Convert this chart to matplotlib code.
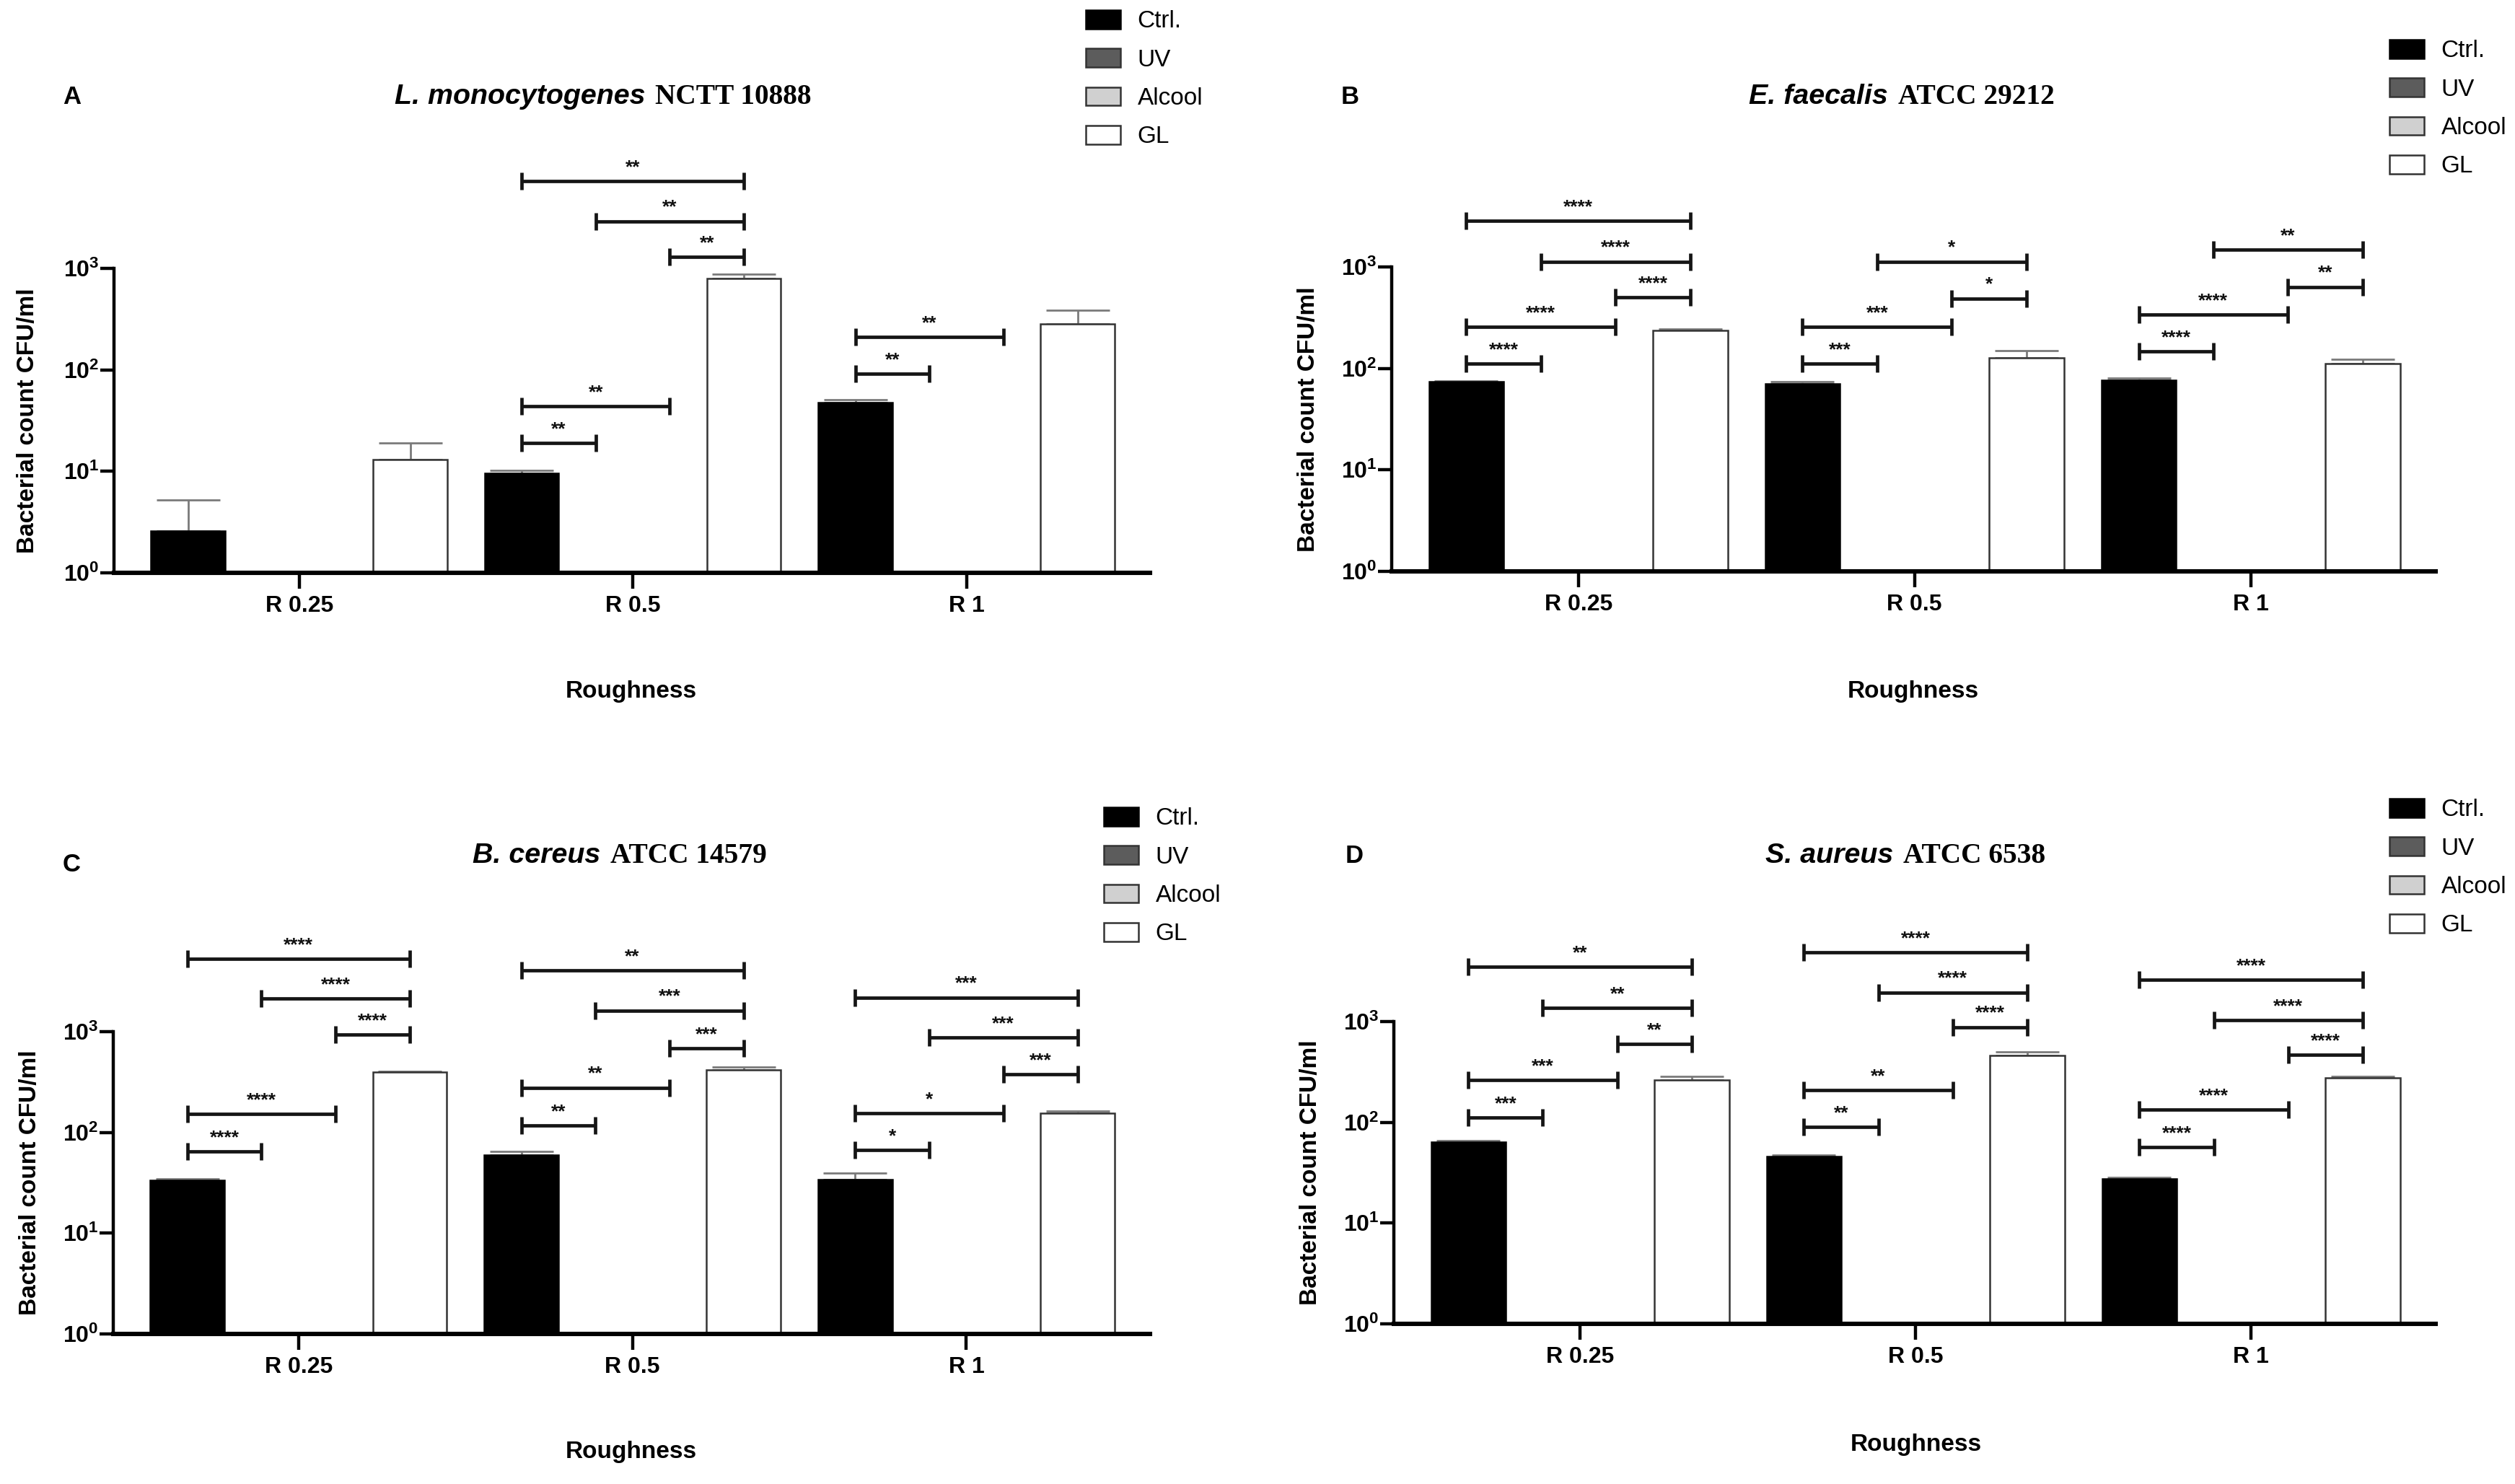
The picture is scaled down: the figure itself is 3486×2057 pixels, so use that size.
import numpy as np
import matplotlib
matplotlib.use("Agg")
import matplotlib.pyplot as plt
from matplotlib.ticker import FixedLocator, FuncFormatter, NullLocator
from matplotlib.offsetbox import TextArea, HPacker, AnnotationBbox

plt.rcParams['font.family'] = ['Liberation Sans', 'DejaVu Sans']
plt.rcParams['mathtext.fontset'] = 'custom'
plt.rcParams['mathtext.rm'] = 'Liberation Sans'
plt.rcParams['mathtext.bf'] = 'Liberation Sans:bold'
plt.rcParams['mathtext.it'] = 'Liberation Sans:italic'

# ---------------- data ----------------
categories = ["R 0.25", "R 0.5", "R 1"]
treatments = ["Ctrl.", "UV", "Alcool", "GL"]
bar_colors = ["#000000", "#5c5c5c", "#d0d0d0", "#ffffff"]

# Panel A - L. monocytogenes
a_ctrl = [2.6, 9.5, 47.6]
a_uv = [0, 0, 0]
a_alcool = [0, 0, 0]
a_gl = [13.0, 795, 284]
a_ctrl_sd = [2.6, 0.7, 3.4]
a_gl_sd = [5.9, 78, 105]
a_brackets = [(1, 0, 1, 18.9, "**"), (1, 0, 2, 43.8, "**"), (1, 2, 3, 1300, "**"),
              (1, 1, 3, 2920, "**"), (1, 0, 3, 7210, "**"),
              (2, 0, 1, 91, "**"), (2, 0, 2, 212, "**")]

# Panel B - E. faecalis
b_ctrl = [73.5, 70.5, 76.6]
b_uv = [0, 0, 0]
b_alcool = [0, 0, 0]
b_gl = [238, 128, 112]
b_ctrl_sd = [1.5, 3, 3.4]
b_gl_sd = [7, 22, 12]
b_brackets = [(0, 0, 1, 111, "****"), (0, 0, 2, 258, "****"), (0, 2, 3, 500, "****"),
              (0, 1, 3, 1130, "****"), (0, 0, 3, 2850, "****"),
              (1, 0, 1, 111, "***"), (1, 0, 2, 258, "***"), (1, 2, 3, 490, "*"),
              (1, 1, 3, 1130, "*"),
              (2, 0, 1, 147, "****"), (2, 0, 2, 340, "****"), (2, 2, 3, 637, "**"),
              (2, 1, 3, 1470, "**")]

# Panel C - B. cereus
c_ctrl = [33.5, 60, 34]
c_uv = [0, 0, 0]
c_alcool = [0, 0, 0]
c_gl = [394, 415, 154]
c_ctrl_sd = [1, 4.5, 5.3]
c_gl_sd = [12, 32, 10]
c_brackets = [(0, 0, 1, 65, "****"), (0, 0, 2, 152, "****"), (0, 2, 3, 937, "****"),
              (0, 1, 3, 2140, "****"), (0, 0, 3, 5260, "****"),
              (1, 0, 1, 117, "**"), (1, 0, 2, 278, "**"), (1, 2, 3, 683, "***"),
              (1, 1, 3, 1625, "***"), (1, 0, 3, 4035, "**"),
              (2, 0, 1, 66.6, "*"), (2, 0, 2, 155, "*"), (2, 2, 3, 377, "***"),
              (2, 1, 3, 871, "***"), (2, 0, 3, 2185, "***")]

# Panel D - S. aureus
d_ctrl = [64, 45.5, 27.4]
d_uv = [0, 0, 0]
d_alcool = [0, 0, 0]
d_gl = [264, 462, 275]
d_ctrl_sd = [1.5, 1.5, 0.8]
d_gl_sd = [23, 35, 9]
d_brackets = [(0, 0, 1, 112, "***"), (0, 0, 2, 261, "***"), (0, 2, 3, 601, "**"),
              (0, 1, 3, 1372, "**"), (0, 0, 3, 3480, "**"),
              (1, 0, 1, 89.6, "**"), (1, 0, 2, 209, "**"), (1, 2, 3, 880, "****"),
              (1, 1, 3, 1945, "****"), (1, 0, 3, 4883, "****"),
              (2, 0, 1, 56.9, "****"), (2, 0, 2, 134, "****"), (2, 2, 3, 467, "****"),
              (2, 1, 3, 1030, "****"), (2, 0, 3, 2590, "****")]

# ---------------- layout ----------------
W, H, DPI = 3487, 2057, 200
fig = plt.figure(figsize=(W / DPI, H / DPI), dpi=DPI, facecolor="white")


def fx(px):
    return px / W


def fy(py):
    return 1 - py / H


BAR_W = 0.222
offsets = (np.arange(4) - 1.5) * BAR_W
XLIM = (-0.555, 2.55)


def make_panel(lay, letter, species, strain, series, ctrl_sd, gl_sd, brackets):
    left, right, y0, y3 = lay["left"], lay["right"], lay["y0"], lay["y3"]
    top = y3 - 230
    dec = (y0 - y3) / 3.0
    ax = fig.add_axes([fx(left), fy(y0), (right - left) / W, (y0 - top) / H])
    ax.set_yscale("log")
    ax.set_ylim(1, 10 ** ((y0 - top) / dec))
    ax.set_xlim(*XLIM)
    x = np.arange(len(categories))
    sds = [ctrl_sd, None, None, gl_sd]
    handles = []
    for k, t in enumerate(treatments):
        vals = np.asarray(series[k], float)
        h = np.where(vals > 1, vals - 1, 0)
        bc = ax.bar(x + offsets[k], h, bottom=1, width=BAR_W, color=bar_colors[k],
                    edgecolor="#000000" if k == 0 else "#333333",
                    linewidth=0.9, label=t, zorder=2)
        handles.append(bc)
        if sds[k] is not None:
            ax.errorbar(x + offsets[k], vals, yerr=[np.zeros(len(vals)), sds[k]],
                        fmt="none", ecolor="#7a7a7a", elinewidth=1.0,
                        capsize=16, capthick=1.0, zorder=1)
    # significance brackets
    for g, i, j, yv, lab in brackets:
        x1, x2 = g + offsets[i], g + offsets[j]
        ax.plot([x1, x2], [yv, yv], color="#151515", lw=1.7, marker="|",
                ms=8.5, mew=1.7, clip_on=False, zorder=3, solid_capstyle="butt")
        ax.annotate(lab, ((x1 + x2) / 2, yv), xytext=(0, 2.5),
                    textcoords="offset points", ha="center", va="bottom",
                    fontsize=9.5, fontweight="bold", color="#111111")
    # axes styling
    for s in ("top", "right"):
        ax.spines[s].set_visible(False)
    ax.spines["left"].set_bounds(1, 1000)
    ax.spines["left"].set_linewidth(1.6)
    ax.spines["bottom"].set_linewidth(2.2)
    ax.yaxis.set_major_locator(FixedLocator([1, 10, 100, 1000]))
    ax.yaxis.set_minor_locator(NullLocator())
    ax.yaxis.set_major_formatter(FuncFormatter(
        lambda v, p: r"$\mathbf{10^{%d}}$" % int(round(np.log10(v)))))
    ax.tick_params(axis="y", length=7, width=1.6, pad=0.5, labelsize=11.5)
    ax.set_xticks(x, categories)
    for tl in ax.get_xticklabels():
        tl.set_fontweight("bold")
    ax.tick_params(axis="x", length=8, width=1.6, pad=3, labelsize=11.5)
    ax.patch.set_alpha(0)

    # labels
    fig.text(fx(lay["ylab_x"]), fy((y0 + y3) / 2), "Bacterial count CFU/ml",
             rotation=90, ha="center", va="center", fontsize=12, fontweight="bold")
    fig.text(fx(lay["xlab_x"]), fy(lay["xlab_y"]), "Roughness", ha="center",
             va="center", fontsize=12, fontweight="bold")
    fig.text(fx(lay["let_x"]), fy(lay["let_y"]), letter, ha="center", va="center",
             fontsize=12.5, fontweight="bold")
    # title: italic species + serif strain
    ta1 = TextArea(species, textprops=dict(fontsize=14.2, fontweight="bold",
                                           fontstyle="italic", family="Liberation Sans"))
    ta2 = TextArea(strain, textprops=dict(fontsize=14.2, fontweight="bold",
                                          family="Liberation Serif"))
    box = HPacker(children=[ta1, ta2], align="baseline", pad=0, sep=5)
    ab = AnnotationBbox(box, (fx(lay["tit_x"]), fy(lay["tit_y"])),
                        xycoords="figure fraction", frameon=False,
                        box_alignment=(0.5, 0.5), pad=0)
    fig.add_artist(ab)
    # legend
    ax.legend(handles=handles, loc="upper left",
              bbox_to_anchor=(fx(lay["leg_x"]), fy(lay["leg_y"] - 19)),
              bbox_transform=fig.transFigure, frameon=False, fontsize=12,
              handlelength=1.45, handleheight=0.8, labelspacing=0.66,
              borderpad=0, borderaxespad=0, handletextpad=0.7)
    return ax


layouts = {
    "A": dict(left=158, right=1594, y0=794, y3=372, ylab_x=39, xlab_x=875, xlab_y=958,
              let_x=100, let_y=135, tit_x=836, tit_y=135, leg_x=1505, leg_y=33),
    "B": dict(left=1929, right=3376, y0=792, y3=370, ylab_x=1814, xlab_x=2652, xlab_y=958,
              let_x=1871, let_y=135, tit_x=2636, tit_y=135, leg_x=3312, leg_y=74),
    "C": dict(left=157, right=1594, y0=1849, y3=1430, ylab_x=42, xlab_x=875, xlab_y=2013,
              let_x=99, let_y=1198, tit_x=859, tit_y=1186, leg_x=1530, leg_y=1138),
    "D": dict(left=1932, right=3376, y0=1835, y3=1416, ylab_x=1817, xlab_x=2656, xlab_y=2003,
              let_x=1877, let_y=1186, tit_x=2641, tit_y=1186, leg_x=3312, leg_y=1126),
}

make_panel(layouts["A"], "A", "L. monocytogenes", "NCTT 10888",
           [a_ctrl, a_uv, a_alcool, a_gl], a_ctrl_sd, a_gl_sd, a_brackets)
make_panel(layouts["B"], "B", "E. faecalis", "ATCC 29212",
           [b_ctrl, b_uv, b_alcool, b_gl], b_ctrl_sd, b_gl_sd, b_brackets)
make_panel(layouts["C"], "C", "B. cereus", "ATCC 14579",
           [c_ctrl, c_uv, c_alcool, c_gl], c_ctrl_sd, c_gl_sd, c_brackets)
make_panel(layouts["D"], "D", "S. aureus", "ATCC 6538",
           [d_ctrl, d_uv, d_alcool, d_gl], d_ctrl_sd, d_gl_sd, d_brackets)

fig.savefig("out.png", dpi=DPI, facecolor="white")
